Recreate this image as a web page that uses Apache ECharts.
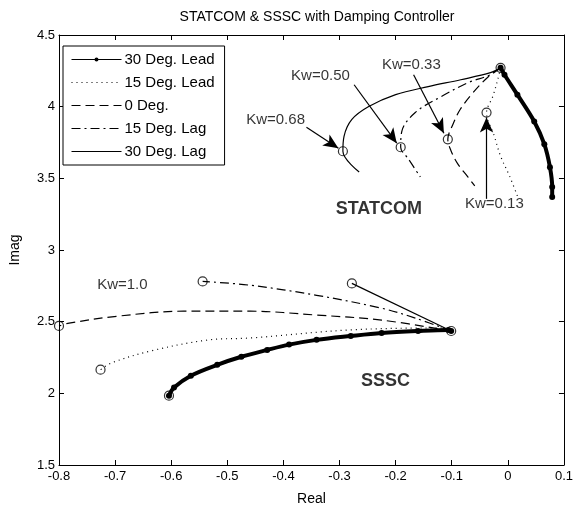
<!DOCTYPE html>
<html>
<head>
<meta charset="utf-8">
<script src="https://cdn.jsdelivr.net/npm/echarts@6/dist/echarts.min.js"></script>
<style>
  html, body { margin: 0; padding: 0; background: #fff; }
  #main { width: 576px; height: 511px; }
</style>
</head>
<body>
<div id="main"></div>
<script>
// legend names (one per phase angle)
const names = ['30 Deg. Lead', '15 Deg. Lead', '0 Deg.', '15 Deg. Lag', '30 Deg. Lag'];

// STATCOM loci [real, imag]
const stat_lead30 = [[-0.013, 4.271], [-0.006, 4.223], [0.017, 4.084], [0.047, 3.897], [0.065, 3.738], [0.075, 3.578], [0.079, 3.44], [0.079, 3.37]];
const stat_lead15 = [[-0.013, 4.271], [-0.018, 4.188], [-0.027, 4.07], [-0.038, 3.959], [-0.024, 3.793], [-0.013, 3.655], [0.003, 3.516], [0.017, 3.377]];
const stat_deg0 = [[-0.013, 4.271], [-0.031, 4.223], [-0.062, 4.098], [-0.085, 3.98], [-0.098, 3.876], [-0.107, 3.772], [-0.101, 3.689], [-0.089, 3.599], [-0.071, 3.509], [-0.059, 3.447]];
const stat_lag15 = [[-0.013, 4.271], [-0.031, 4.223], [-0.071, 4.167], [-0.119, 4.07], [-0.165, 3.959], [-0.189, 3.828], [-0.191, 3.717], [-0.177, 3.634], [-0.156, 3.509]];
const stat_lag30 = [[-0.013, 4.271], [-0.031, 4.237], [-0.084, 4.188], [-0.142, 4.14], [-0.2, 4.084], [-0.248, 4.001], [-0.278, 3.911], [-0.292, 3.793], [-0.294, 3.689], [-0.265, 3.544]];

// SSSC loci
const sssc_lead30 = [[-0.101, 2.435], [-0.106, 2.442], [-0.16, 2.435], [-0.225, 2.421], [-0.28, 2.4], [-0.341, 2.373], [-0.39, 2.34], [-0.429, 2.303], [-0.475, 2.255], [-0.518, 2.199], [-0.565, 2.123], [-0.595, 2.04], [-0.604, 1.984]];
const sssc_lead15 = [[-0.101, 2.435], [-0.119, 2.456], [-0.283, 2.442], [-0.459, 2.386], [-0.535, 2.372], [-0.636, 2.296], [-0.706, 2.213], [-0.726, 2.165]];
const sssc_deg0 = [[-0.101, 2.435], [-0.225, 2.511], [-0.341, 2.546], [-0.459, 2.573], [-0.578, 2.573], [-0.694, 2.539], [-0.782, 2.49], [-0.8, 2.47]];
const sssc_lag15 = [[-0.101, 2.435], [-0.165, 2.525], [-0.225, 2.594], [-0.341, 2.684], [-0.459, 2.754], [-0.544, 2.781]];
const sssc_lag30 = [[-0.101, 2.435], [-0.278, 2.767]];

// circled points
const circles = [[-0.013, 4.271], [-0.294, 3.689], [-0.191, 3.717], [-0.107, 3.772], [-0.038, 3.959],
                 [-0.101, 2.435], [-0.604, 1.984], [-0.726, 2.165], [-0.8, 2.47], [-0.544, 2.781], [-0.278, 2.767]];

// annotation text and arrows
const labelText = ['Kw=0.68', 'Kw=0.50', 'Kw=0.33', 'Kw=0.13', 'Kw=1.0', 'STATCOM', 'SSSC'];
const labelPos = [[-0.414, 3.905], [-0.334, 4.216], [-0.172, 4.292], [-0.024, 3.322], [-0.687, 2.754], [-0.23, 3.287], [-0.218, 2.088]];
const arrows = [
    [[-0.359, 3.856], [-0.302, 3.71]],
    [[-0.274, 4.153], [-0.198, 3.745]],
    [[-0.168, 4.223], [-0.114, 3.814]],
    [[-0.038, 3.357], [-0.038, 3.925]]
];

var font = 'Liberation Sans, Arial, sans-serif';

function curve(name, data, type, width, withDots) {
    return {
        name: name,
        type: 'line',
        data: data,
        smooth: 0.35,
        symbol: withDots ? 'circle' : 'none',
        symbolSize: 6,
        showSymbol: !!withDots,
        itemStyle: { color: '#000' },
        lineStyle: { color: '#000', width: width, type: type },
        z: 3
    };
}

var dotted = [1, 4];
var dashed = [9, 5];
var dashDot = [9, 4, 2, 4];

var series = [
    curve(names[0], stat_lead30, 'solid', 4, true),
    curve(names[1], stat_lead15, dotted, 1.2),
    curve(names[2], stat_deg0, dashed, 1.2),
    curve(names[3], stat_lag15, dashDot, 1.2),
    curve(names[4], stat_lag30, 'solid', 1.2),
    curve(names[0], sssc_lead30, 'solid', 4, true),
    curve(names[1], sssc_lead15, dotted, 1.2),
    curve(names[2], sssc_deg0, dashed, 1.2),
    curve(names[3], sssc_lag15, dashDot, 1.2),
    curve(names[4], sssc_lag30, 'solid', 1.2),
    {
        name: 'circles',
        type: 'scatter',
        data: circles,
        symbol: 'circle',
        symbolSize: 9,
        itemStyle: { color: 'rgba(0,0,0,0)', borderColor: '#000', borderWidth: 1.2 },
        z: 4,
        markLine: {
            silent: true,
            symbol: ['none', 'arrow'],
            symbolSize: [10, 15],
            lineStyle: { color: '#000', width: 1.2, type: 'solid' },
            label: { show: false },
            data: arrows.map(function (a) {
                return [{ coord: a[0] }, { coord: a[1] }];
            })
        }
    },
    {
        name: 'labels',
        type: 'scatter',
        data: labelText.map(function (t, i) {
            var big = (t === 'STATCOM' || t === 'SSSC');
            return {
                value: labelPos[i],
                name: t,
                label: {
                    fontWeight: big ? 'bold' : 'normal',
                    fontSize: big ? 18 : 15
                }
            };
        }),
        symbolSize: 0,
        label: {
            show: true,
            position: 'inside',
            formatter: '{b}',
            color: '#000',
            fontFamily: font
        },
        z: 5
    }
];

var hideDot = { color: 'rgba(0,0,0,0)', borderWidth: 0 };

var myChart = echarts.init(document.getElementById('main'));
var option = {
    animation: false,
    backgroundColor: '#fff',
    title: {
        text: 'STATCOM & SSSC with Damping Controller',
        left: 312,
        top: 5,
        textAlign: 'center',
        textStyle: { fontSize: 14, fontWeight: 'normal', color: '#000', fontFamily: font }
    },
    grid: { left: 57, right: 9, top: 35, bottom: 43 },
    legend: {
        data: [
            { name: names[0] },
            { name: names[1], itemStyle: hideDot },
            { name: names[2], itemStyle: hideDot },
            { name: names[3], itemStyle: hideDot },
            { name: names[4], itemStyle: hideDot }
        ],
        orient: 'vertical',
        left: 63,
        top: 46,
        padding: [6, 10, 6, 8],
        itemGap: 8,
        itemWidth: 50,
        itemHeight: 5,
        backgroundColor: '#fff',
        borderColor: '#000',
        borderWidth: 1,
        borderRadius: 0,
        lineStyle: { width: 1 },
        textStyle: { fontSize: 15, color: '#000', fontFamily: font, padding: [0, 0, 0, -2] }
    },
    xAxis: [
        {
            type: 'value', min: -0.8, max: 0.1, interval: 0.1, position: 'bottom',
            name: 'Real', nameLocation: 'middle', nameGap: 27,
            nameTextStyle: { fontSize: 14, color: '#000', fontFamily: font },
            axisLine: { onZero: false, lineStyle: { color: '#000' } },
            axisTick: { inside: true, length: 5, lineStyle: { color: '#000' } },
            axisLabel: { color: '#000', fontSize: 13, margin: 5, fontFamily: font },
            splitLine: { show: false }
        },
        {
            type: 'value', min: -0.8, max: 0.1, interval: 0.1, position: 'top',
            axisLine: { onZero: false, lineStyle: { color: '#000' } },
            axisTick: { inside: true, length: 5, lineStyle: { color: '#000' } },
            axisLabel: { show: false },
            splitLine: { show: false }
        }
    ],
    yAxis: [
        {
            type: 'value', min: 1.5, max: 4.5, interval: 0.5, position: 'left',
            name: 'Imag', nameLocation: 'middle', nameGap: 37, nameRotate: 90,
            nameTextStyle: { fontSize: 14, color: '#000', fontFamily: font },
            axisLine: { show: true, onZero: false, lineStyle: { color: '#000' } },
            axisTick: { show: true, inside: true, length: 5, lineStyle: { color: '#000' } },
            axisLabel: { color: '#000', fontSize: 13, margin: 4, fontFamily: font },
            splitLine: { show: false }
        },
        {
            type: 'value', min: 1.5, max: 4.5, interval: 0.5, position: 'right',
            axisLine: { show: true, onZero: false, lineStyle: { color: '#000' } },
            axisTick: { show: true, inside: true, length: 5, lineStyle: { color: '#000' } },
            axisLabel: { show: false },
            splitLine: { show: false }
        }
    ],
    series: series
};

myChart.setOption(option);
</script>
</body>
</html>
